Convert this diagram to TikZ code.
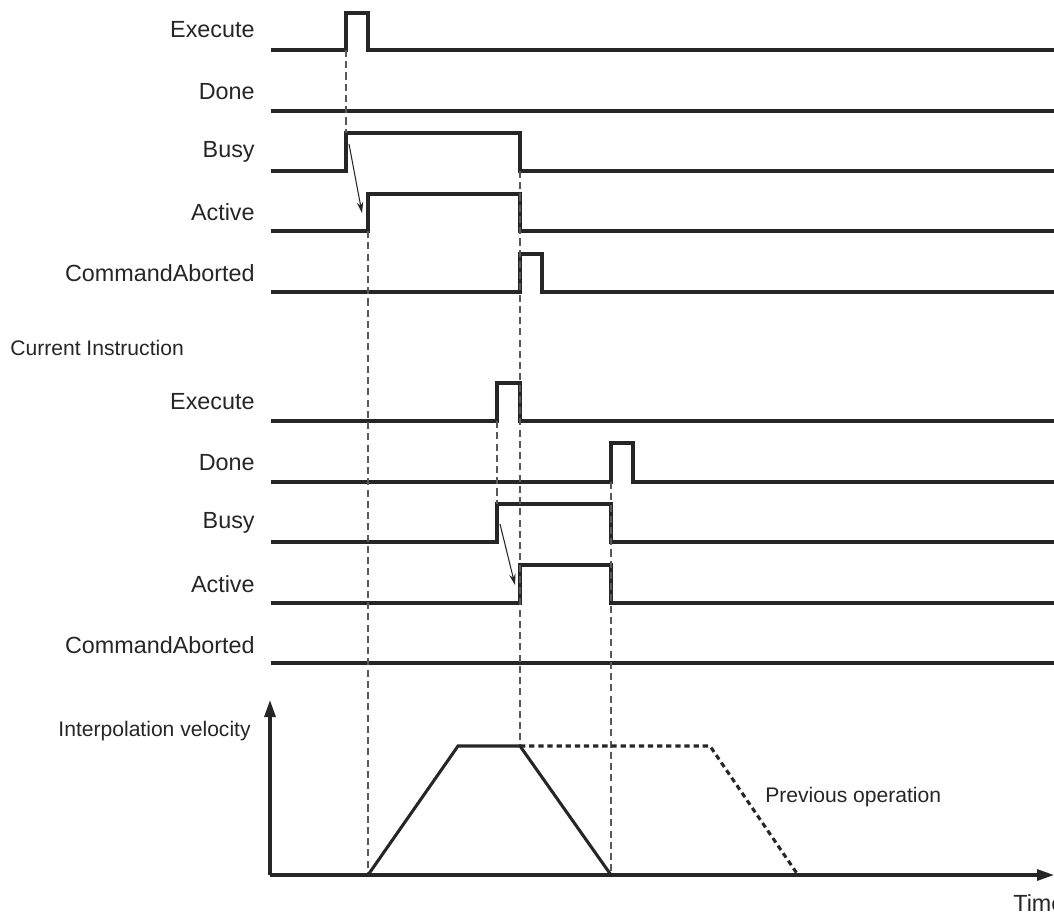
\documentclass[tikz,border=0pt]{standalone}
\usepackage{fontspec}
\setmainfont{Liberation Sans}
\usepackage{tikz}
\usetikzlibrary{arrows.meta}

\begin{document}
\begin{tikzpicture}[
  x=0.02cm, y=-0.02cm,
  lbl/.style={anchor=east, font=\fontsize{13.3}{15}\selectfont, text=black!85, inner sep=0pt},
  note/.style={font=\fontsize{12}{14}\selectfont, text=black!85, inner sep=0pt},
  sig/.style={line width=1.75pt, black!85, line join=miter},
  guide/.style={line width=0.7pt, black!65, dash pattern=on 4pt off 2.4pt},
  trig/.style={-{Stealth[length=2.2mm, width=1.3mm]}, line width=0.6pt, black!85},
  axis/.style={-{Triangle[length=3.4mm, width=2.2mm]}, line width=1.75pt, black!85}
]
 \useasboundingbox (0,0) rectangle (1054,914);

 % Previous instruction
 \node[lbl] (exeP) at (255,30) {Execute};
 \node[lbl] (doneP) at (255,92) {Done};
 \node[lbl] (busyP) at (255,152) {Busy};
 \node[lbl] (actP) at (255,212) {Active};
 \node[lbl] (abortP) at (255,273) {CommandAborted};
 \draw[sig] (271,50) -- (346,50) -- (346,13) -- (368,13) -- (368,50) -- (1054,50);
 \draw[sig] (271,111) -- (1054,111);
 \draw[sig] (271,171) -- (346,171) -- (346,133) -- (520,133) -- (520,171) -- (1054,171);
 \draw[sig] (271,231) -- (368,231) -- (368,194) -- (520,194) -- (520,231) -- (1054,231);
 \draw[sig] (271,292) -- (520,292) -- (520,254) -- (542,254) -- (542,292) -- (1054,292);

 % Current instruction
 \node[note, anchor=west] (cur) at (10,348) {Current Instruction};
 \node[lbl] (exeC) at (255,402) {Execute};
 \node[lbl] (doneC) at (255,463) {Done};
 \node[lbl] (busyC) at (255,523) {Busy};
 \node[lbl] (actC) at (255,584) {Active};
 \node[lbl] (abortC) at (255,645) {CommandAborted};
 \draw[sig] (271,421) -- (497,421) -- (497,383) -- (520,383) -- (520,421) -- (1054,421);
 \draw[sig] (271,482) -- (611,482) -- (611,443) -- (633,443) -- (633,482) -- (1054,482);
 \draw[sig] (271,542) -- (497,542) -- (497,504) -- (611,504) -- (611,542) -- (1054,542);
 \draw[sig] (271,603) -- (520,603) -- (520,565) -- (611,565) -- (611,603) -- (1054,603);
 \draw[sig] (271,663) -- (1054,663);

 % Timing guides
 \draw[guide] (346,50) -- (346,133);
 \draw[guide] (368,231) -- (368,875);
 \draw[guide] (520,171) -- (520,746);
 \draw[guide] (497,421) -- (497,504);
 \draw[guide] (611,482) -- (611,875);

 % Busy -> Active
 \coordinate (bP) at (349,144);
 \coordinate (aP) at (362,213);
 \draw[trig] (bP) -- (aP);
 \coordinate (bC) at (500,524);
 \coordinate (aC) at (515,585);
 \draw[trig] (bC) -- (aC);

 % Velocity profile
 \coordinate (org) at (270,875);
 \coordinate (vtop) at (270,700);
 \coordinate (tend) at (1054,875);
 \draw[axis] (org) -- (vtop);
 \draw[axis] (org) -- (tend);
 \node[note, anchor=east] (vel) at (251,731) {Interpolation velocity};
 \node[lbl, anchor=base west] (time) at (1013,911) {Time};
 \draw[sig] (368,875) -- (458,746) -- (520,746) -- (611,875);
 \draw[sig, dash pattern=on 3pt off 2.2pt] (520,746) -- (710,746) -- (798,875);
 \node[note, anchor=west] (prev) at (765,797) {Previous operation};
\end{tikzpicture}
\end{document}
